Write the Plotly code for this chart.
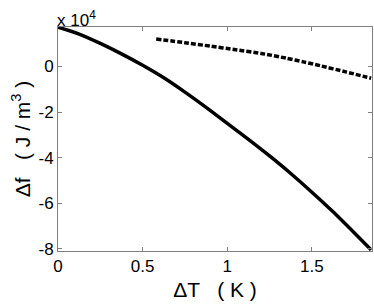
import plotly.graph_objects as go

# values in units of 1e4 J/m^3
solid_x = [0, 0.125, 0.25, 0.375, 0.5, 0.625, 0.75, 0.875, 1.0, 1.125, 1.25, 1.375, 1.5, 1.625, 1.75, 1.85]
solid_y = [1.72, 1.42, 1.01, 0.55, 0.05, -0.5, -1.13, -1.8, -2.5, -3.2, -3.93, -4.7, -5.52, -6.38, -7.3, -8.05]
dash_x = [0.58, 0.75, 0.9, 1.05, 1.2, 1.35, 1.45, 1.55, 1.7, 1.85]
dash_y = [1.2, 1.04, 0.89, 0.73, 0.57, 0.36, 0.2, 0.03, -0.24, -0.52]
xticks = [0, 0.5, 1, 1.5]
yticks = [-8, -6, -4, -2, 0]

FONT = "Liberation Sans, Arial"
fig = go.Figure()
fig.add_trace(go.Scatter(x=solid_x, y=solid_y, mode="lines", line=dict(color="black", width=3.5, shape="spline", smoothing=0.6), showlegend=False))
fig.add_trace(go.Scatter(x=dash_x, y=dash_y, mode="lines", line=dict(color="black", width=3.5, dash="5px,2px", shape="spline", smoothing=0.6), showlegend=False))

axis_common = dict(showgrid=False, zeroline=False, showline=True, linecolor="#808080", linewidth=1,
                   mirror="ticks", ticks="inside", ticklen=4, tickcolor="#808080", automargin=False,
                   tickfont=dict(family=FONT, size=17, color="black"))
fig.update_xaxes(range=[0, 1.855], tickvals=xticks, ticktext=[str(v) for v in xticks],
                 title=dict(text="ΔT   ( K )", font=dict(family=FONT, size=21, color="black"), standoff=6),
                 **axis_common)
fig.update_yaxes(range=[-8.1, 1.73], tickvals=yticks, ticktext=[str(v) for v in yticks],
                 title=dict(text="Δf   ( J / m<sup>3</sup> )", font=dict(family=FONT, size=21, color="black"), standoff=2),
                 **axis_common)
fig.add_annotation(x=0, y=1, xref="paper", yref="paper", xanchor="left", yanchor="bottom", showarrow=False,
                   text="x 10<sup>4</sup>", font=dict(family=FONT, size=17, color="black"), yshift=-5, xshift=-3)
fig.update_layout(width=374, height=308, margin=dict(l=58, r=2, t=27, b=57, autoexpand=False),
                  plot_bgcolor="white", paper_bgcolor="white")
fig.write_html("out.html", config={"displayModeBar": False},
               post_script="document.body.style.margin='0';document.body.style.overflow='hidden';")
